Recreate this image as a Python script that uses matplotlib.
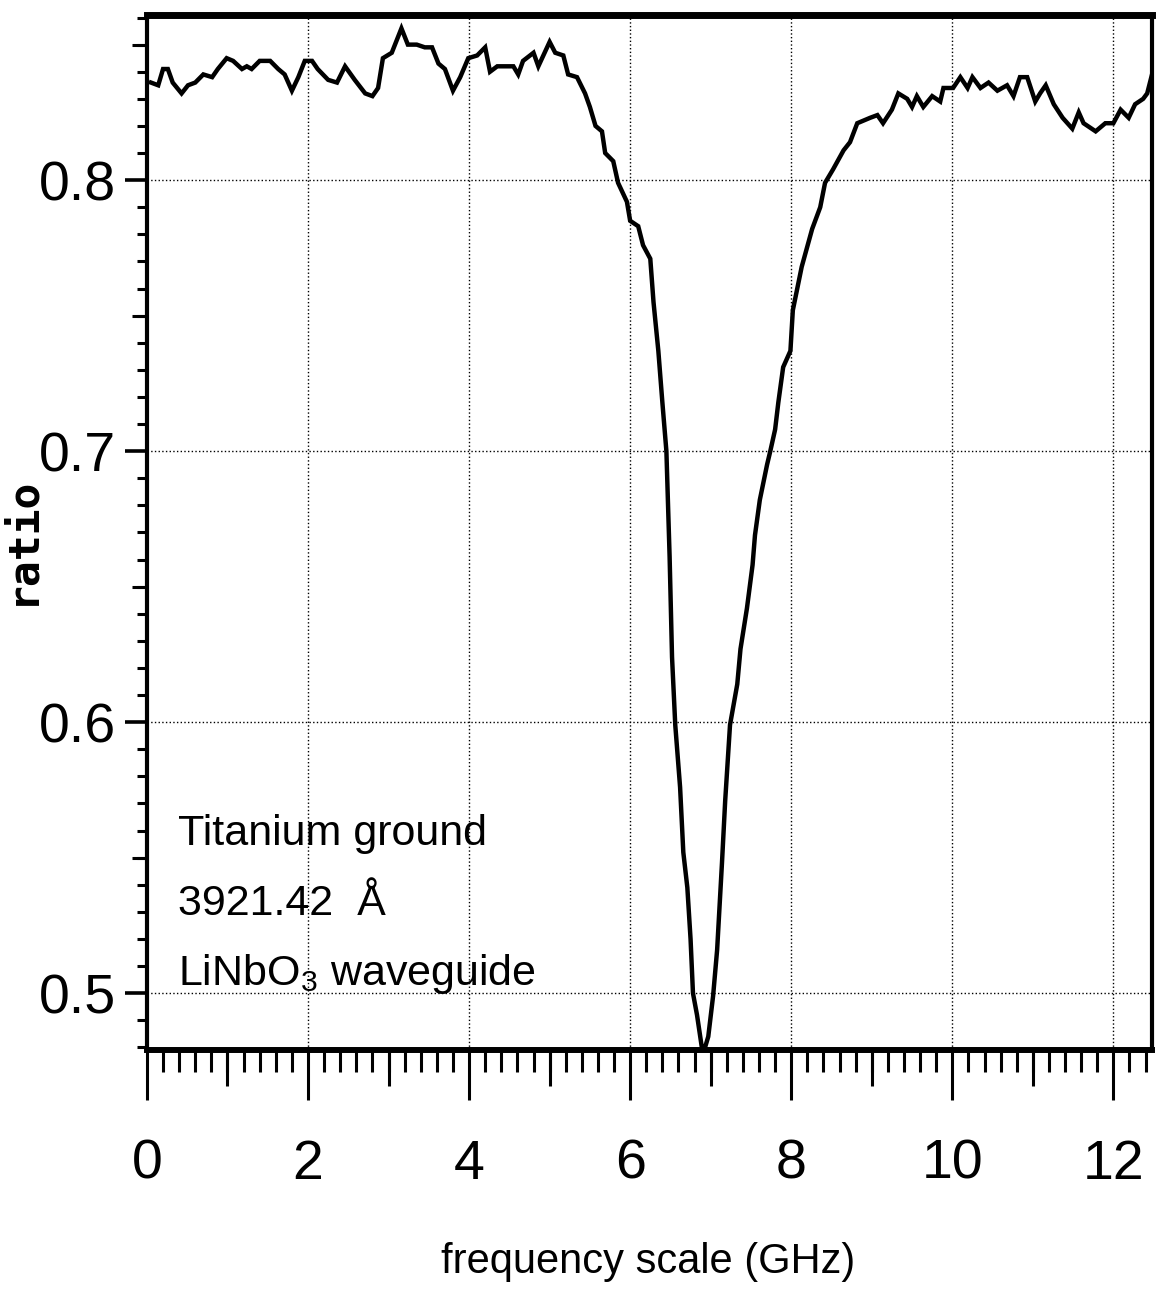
import matplotlib
matplotlib.use('Agg')
import matplotlib.pyplot as plt
from matplotlib.ticker import MultipleLocator, FormatStrFormatter

# Narrow Helvetica-like face for the labels (falls back to Liberation Sans).
NARROW = ['Liberation Sans Narrow', 'Liberation Sans', 'DejaVu Sans']
plt.rcParams['mathtext.default'] = 'regular'

# Data.
freq_ghz = [0.05, 0.14, 0.20, 0.26, 0.32, 0.43, 0.51, 0.60, 0.70, 0.81,
            0.88, 0.99, 1.07, 1.18, 1.24, 1.30, 1.40, 1.53, 1.63, 1.71,
            1.80, 1.88, 1.96, 2.05, 2.12, 2.25, 2.36, 2.46, 2.58, 2.71,
            2.80, 2.87, 2.93, 3.04, 3.16, 3.24, 3.35, 3.45, 3.54, 3.62,
            3.70, 3.80, 3.89, 3.99, 4.10, 4.20, 4.26, 4.35, 4.55, 4.61,
            4.67, 4.80, 4.86, 5.00, 5.07, 5.17, 5.23, 5.34, 5.44, 5.50,
            5.57, 5.65, 5.69, 5.79, 5.85, 5.96, 6.00, 6.10, 6.16, 6.25,
            6.29, 6.35, 6.40, 6.45, 6.47, 6.49, 6.52, 6.56, 6.62, 6.66,
            6.71, 6.75, 6.78, 6.83, 6.89, 6.92, 6.97, 7.03, 7.08, 7.14,
            7.18, 7.24, 7.33, 7.37, 7.45, 7.52, 7.55, 7.61, 7.70, 7.74,
            7.80, 7.84, 7.90, 7.99, 8.02, 8.13, 8.26, 8.36, 8.42, 8.52,
            8.65, 8.73, 8.82, 8.98, 9.07, 9.14, 9.25, 9.33, 9.44, 9.50,
            9.56, 9.64, 9.75, 9.85, 9.89, 10.01, 10.10, 10.19, 10.25, 10.35,
            10.45, 10.56, 10.68, 10.76, 10.84, 10.93, 11.03, 11.09, 11.16, 11.26,
            11.37, 11.49, 11.57, 11.63, 11.78, 11.90, 12.00, 12.09, 12.19, 12.27,
            12.37, 12.42, 12.48]
ratio = [0.836, 0.835, 0.841, 0.841, 0.836, 0.832, 0.835, 0.836, 0.839, 0.838,
         0.841, 0.845, 0.844, 0.841, 0.842, 0.841, 0.844, 0.844, 0.841, 0.839,
         0.833, 0.838, 0.844, 0.844, 0.841, 0.837, 0.836, 0.842, 0.837, 0.832,
         0.831, 0.834, 0.845, 0.847, 0.856, 0.850, 0.850, 0.849, 0.849, 0.843,
         0.841, 0.833, 0.838, 0.845, 0.846, 0.849, 0.840, 0.842, 0.842, 0.839,
         0.844, 0.847, 0.842, 0.851, 0.847, 0.846, 0.839, 0.838, 0.832, 0.827,
         0.820, 0.818, 0.810, 0.807, 0.799, 0.792, 0.785, 0.783, 0.776, 0.771,
         0.755, 0.737, 0.718, 0.700, 0.680, 0.661, 0.624, 0.599, 0.576, 0.552,
         0.539, 0.520, 0.500, 0.492, 0.480, 0.479, 0.484, 0.499, 0.516, 0.548,
         0.571, 0.599, 0.614, 0.627, 0.642, 0.658, 0.669, 0.682, 0.695, 0.700,
         0.708, 0.718, 0.731, 0.737, 0.752, 0.768, 0.782, 0.790, 0.799, 0.804,
         0.811, 0.814, 0.821, 0.823, 0.824, 0.821, 0.826, 0.832, 0.830, 0.827,
         0.831, 0.827, 0.831, 0.829, 0.834, 0.834, 0.838, 0.834, 0.838, 0.834,
         0.836, 0.833, 0.835, 0.831, 0.838, 0.838, 0.829, 0.832, 0.835, 0.828,
         0.823, 0.819, 0.825, 0.821, 0.818, 0.821, 0.821, 0.826, 0.823, 0.828,
         0.830, 0.832, 0.839]

x_major = [0, 2, 4, 6, 8, 10, 12]
x_medium = [1, 3, 5, 7, 9, 11]
y_major = [0.5, 0.6, 0.7, 0.8]
y_medium = [0.55, 0.65, 0.75, 0.85]

notes = ['Titanium ground', '3921.42  \u00c5', 'LiNbO$_3$ waveguide']
notes_y = [0.5546, 0.5288, 0.5030]

fig = plt.figure(figsize=(11.57, 13.11), dpi=100)
ax = fig.add_axes([0.127, 0.199, 0.8687, 0.7897])

ax.plot(freq_ghz, ratio, color='black', lw=3.2, solid_joinstyle='miter')

ax.set_xlim(0, 12.48)
ax.set_ylim(0.479, 0.861)

# Ticks: long majors, medium halfway, short minors.
ax.set_xticks(x_major)
ax.xaxis.set_minor_locator(MultipleLocator(0.2))
ax.set_yticks(y_major)
ax.yaxis.set_minor_locator(MultipleLocator(0.01))
ax.yaxis.set_major_formatter(FormatStrFormatter('%.1f'))
ax.tick_params(axis='x', which='major', direction='out', length=36, width=2.2, pad=28)
ax.tick_params(axis='x', which='minor', direction='out', length=16, width=2.2)
ax.tick_params(axis='y', which='major', direction='out', length=16, width=2.6, pad=6)
ax.tick_params(axis='y', which='minor', direction='out', length=7, width=2.2)
for lab in ax.get_xticklabels() + ax.get_yticklabels():
    lab.set_family(NARROW)
    lab.set_fontsize(40)

secx = ax.secondary_xaxis('bottom')
secx.set_xticks(x_medium)
secx.tick_params(direction='out', length=26, width=2.2, labelbottom=False)
secx.spines['bottom'].set_visible(False)
secy = ax.secondary_yaxis('left')
secy.set_yticks(y_medium)
secy.tick_params(direction='out', length=11, width=2.2, labelleft=False)
secy.spines['left'].set_visible(False)

ax.grid(which='major', color='black', linestyle=':', linewidth=1.0)

ax.spines['top'].set_linewidth(5)
ax.spines['bottom'].set_linewidth(4.3)
ax.spines['left'].set_linewidth(3)
ax.spines['right'].set_linewidth(3)

for txt, yy in zip(notes, notes_y):
    ax.text(0.385, yy, txt, family=NARROW, fontsize=31, va='baseline', ha='left')

fig.text(648 / 1157, 1 - 1262 / 1311, 'frequency scale (GHz)', family=NARROW,
         fontsize=30, ha='center', va='center')
fig.text(21 / 1157, 1 - 540 / 1311, 'ratio', family='DejaVu Sans Mono',
         weight='bold', fontsize=31, rotation=90, ha='center', va='center')

fig.savefig('out.png', dpi=100, facecolor='white')
